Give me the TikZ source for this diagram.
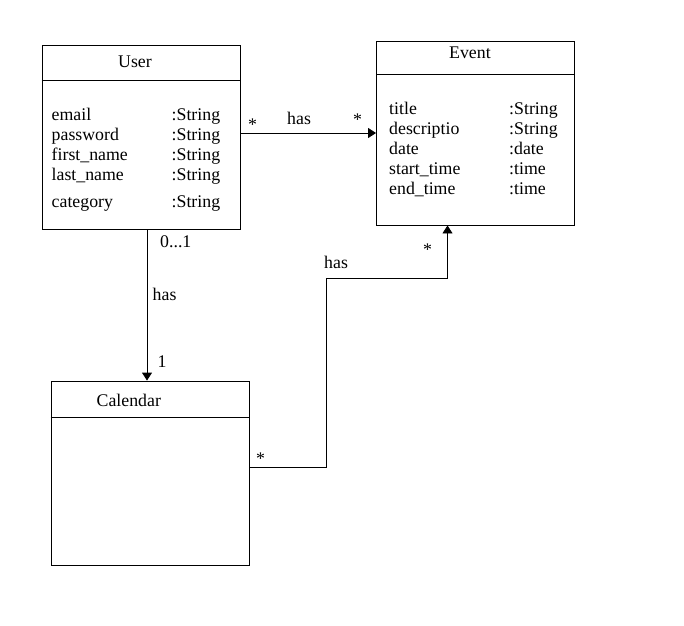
\documentclass[tikz,border=0pt]{standalone}
\usepackage{fontspec}
\setmainfont{Liberation Serif}
\usetikzlibrary{arrows.meta}
\tikzset{
  classbox/.style={draw, line width=0.9pt, minimum width=198pt, minimum height=184pt, inner sep=0pt},
  txt/.style={anchor=base west, inner sep=0pt, font=\fontsize{17.8}{20}\selectfont},
  assoc/.style={line width=0.9pt, -{Triangle[length=8pt,width=10pt]}}
}
\begin{document}
\begin{tikzpicture}[x=1pt,y=-1pt]
\useasboundingbox (0,0) rectangle (684,625);
% class boxes
\node [classbox] (user) at (141,137) {};
\node [classbox] (event) at (475.5,133) {};
\node [classbox] (cal) at (150,473) {};
\draw [line width=0.9pt] (user.west |- 0,80.5) -- (user.east |- 0,80.5);
\draw [line width=0.9pt] (event.west |- 0,74.5) -- (event.east |- 0,74.5);
\draw [line width=0.9pt] (cal.west |- 0,417) -- (cal.east |- 0,417);
% titles
\node [txt] (usertitle) at (118,67) {User};
\node [txt] (eventtitle) at (449,58) {Event};
\node [txt] (caltitle) at (96.5,406) {Calendar};
% attributes of User
\node [txt] (u1) at (51.5,120) {email};
\node [txt] (u2) at (51.5,140) {password};
\node [txt] (u3) at (51.5,160) {first\_name};
\node [txt] (u4) at (51.5,180) {last\_name};
\node [txt] (u5) at (51.5,207) {category};
\foreach \y/\n in {120/1,140/2,160/3,180/4,207/5}
  \node [txt] (ut\n) at (171.5,\y) {:String};
% attributes of Event
\node [txt] (e1) at (389,114) {title};
\node [txt] (e2) at (389,134) {descriptio};
\node [txt] (e3) at (389,154) {date};
\node [txt] (e4) at (389,174) {start\_time};
\node [txt] (e5) at (389,194) {end\_time};
\node [txt] (et1) at (509,114) {:String};
\node [txt] (et2) at (509,134) {:String};
\node [txt] (et3) at (509,154) {:date};
\node [txt] (et4) at (509,174) {:time};
\node [txt] (et5) at (509,194) {:time};
% associations
\draw [assoc] (user.east |- event.west) -- (event.west);
\draw [assoc] ([xshift=6pt]user.south) -- ([xshift=6pt]user.south |- cal.north);
\coordinate (bend) at (326,278);
\draw [assoc] ([yshift=6pt]cal.east) -| (bend) -| ([xshift=-28pt]event.south);
% multiplicities and labels
\node [txt] (m1) at (248,130) {*};
\node [txt] (l1) at (287,124) {has};
\node [txt] (m2) at (353,125) {*};
\node [txt] (m3) at (160,247) {0...1};
\node [txt] (l2) at (152.5,300) {has};
\node [txt] (m4) at (157.5,367) {1};
\node [txt] (m5) at (423,255) {*};
\node [txt] (l3) at (324,268.5) {has};
\node [txt] (m6) at (256,464) {*};
\end{tikzpicture}
\end{document}
